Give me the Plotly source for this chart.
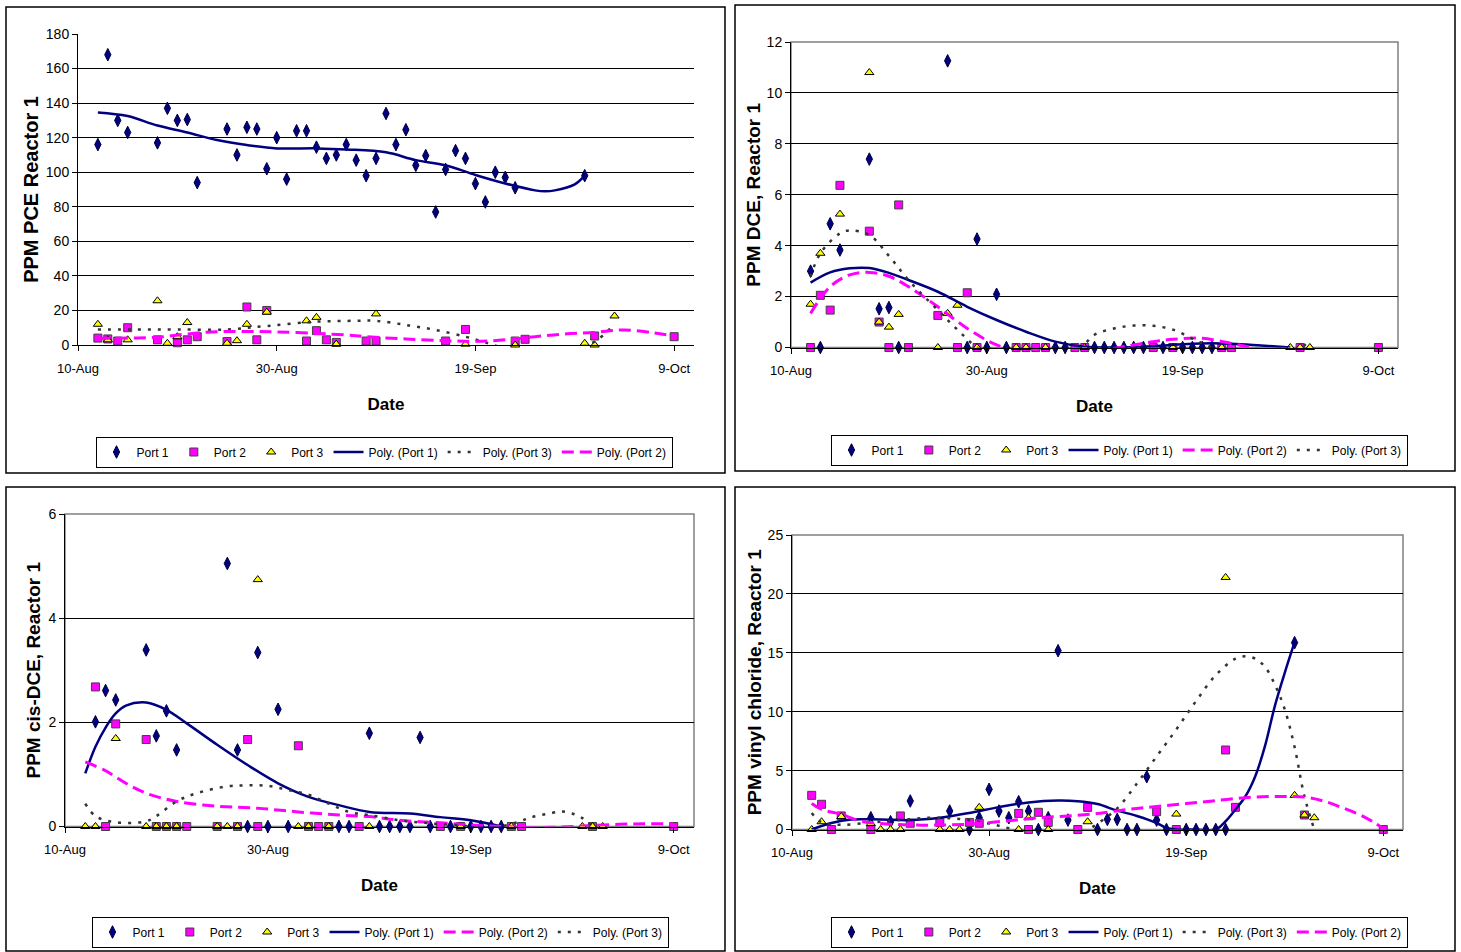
import plotly.graph_objects as go

W, H = 1461, 952
YEAR = "2003"


def dt(lst):
    return [f"{YEAR}-{d}" for d in lst]


# ---------------- axis ticks ----------------
x_tick_dates = ["08-10", "08-30", "09-19", "10-09"]
x_tick_labels = ["10-Aug", "30-Aug", "19-Sep", "9-Oct"]
x_range = ["08-10", "10-11"]

# ---------------- Panel 1: PCE ----------------
pce_p1_dates = ["08-12", "08-13", "08-14", "08-15", "08-18", "08-19", "08-20", "08-21", "08-22",
                "08-25", "08-26", "08-27", "08-28", "08-29", "08-30", "08-31", "09-01", "09-02",
                "09-03", "09-04", "09-05", "09-06", "09-07", "09-08", "09-09", "09-10", "09-11",
                "09-12", "09-13", "09-14", "09-15", "09-16", "09-17", "09-18", "09-19", "09-20",
                "09-21", "09-22", "09-23", "09-30"]
pce_p1_vals = [116, 168, 130, 123, 117, 137, 130, 130.5, 94, 125, 110, 126, 125, 102, 120, 96,
               124, 124, 114.5, 108, 110, 116, 107, 98, 108, 134, 116, 124.6, 104, 109.6, 77,
               101.6, 112.5, 108, 93.4, 82.8, 100, 97, 91, 98]
pce_p2_dates = ["08-12", "08-13", "08-14", "08-15", "08-18", "08-20", "08-21", "08-22", "08-25",
                "08-27", "08-28", "08-29", "09-02", "09-03", "09-04", "09-05", "09-08", "09-09",
                "09-16", "09-18", "09-23", "09-24", "10-01", "10-09"]
pce_p2_vals = [4, 3.5, 2.3, 10, 3, 1.3, 3, 4.8, 2, 22, 3, 20, 2.3, 8.3, 3, 1.5, 2.3, 2.3, 2.3, 9,
               2.3, 3.3, 5.2, 4.8]
pce_p3_dates = ["08-12", "08-13", "08-15", "08-18", "08-19", "08-20", "08-21", "08-25", "08-26",
                "08-27", "08-29", "09-02", "09-03", "09-05", "09-09", "09-18", "09-23", "09-30",
                "10-01", "10-03"]
pce_p3_vals = [12, 3, 3, 25.6, 1, 4.8, 13, 1, 2.5, 12, 19, 14, 16, 0.5, 18, 0.5, 0, 1, 0, 16.8]
pce_t1_dates = ["08-12", "08-15", "08-18", "08-21", "08-24", "08-27", "08-30", "09-03", "09-06",
                "09-10", "09-13", "09-16", "09-19", "09-22", "09-25", "09-26", "09-27", "09-29",
                "09-30"]
pce_t1_vals = [134.6, 132.5, 127, 123, 118.6, 115.7, 113.8, 113.8, 113.2, 111.5, 107, 104, 98.4,
               93.5, 89.5, 89, 89.5, 93, 98]
pce_t3_dates = ["08-12", "08-16", "08-20", "08-25", "08-29", "09-03", "09-07", "09-09", "09-12",
                "09-15", "09-18", "09-20", "09-22", "09-25", "09-28", "10-01", "10-03"]
pce_t3_vals = [9, 9, 9, 9, 11, 13.5, 14, 14, 11.6, 8.7, 4.8, 1.5, -2, -5, -4, 2, 12]
pce_t2_dates = ["08-12", "08-15", "08-18", "08-21", "08-24", "08-27", "08-30", "09-03", "09-06",
                "09-08", "09-12", "09-16", "09-19", "09-22", "09-25", "09-28", "10-01", "10-04",
                "10-07", "10-09"]
pce_t2_vals = [3.9, 4, 4.5, 6.4, 7.7, 7.8, 7.6, 6.7, 5.8, 4.8, 3.5, 2.5, 2.1, 3, 4.8, 6.4, 7.3,
               8.7, 7, 5.2]

# ---------------- Panel 2: DCE ----------------
dce_p1_dates = ["08-12", "08-13", "08-14", "08-15", "08-18", "08-19", "08-20", "08-21", "08-26",
                "08-28", "08-29", "08-30", "08-31", "09-01", "09-06", "09-07", "09-10", "09-11",
                "09-12", "09-13", "09-14", "09-15", "09-17", "09-19", "09-20", "09-21", "09-22"]
dce_p1_vals = [3.0, 0, 4.86, 3.83, 7.4, 1.52, 1.57, 0, 11.26, 0, 4.26, 0, 2.09, 0, 0, 0, 0, 0,
               0, 0, 0, 0, 0, 0, 0, 0, 0]
dce_p2_dates = ["08-12", "08-13", "08-14", "08-15", "08-18", "08-19", "08-20", "08-21", "08-22",
                "08-25", "08-27", "08-28", "08-29", "09-02", "09-03", "09-04", "09-05", "09-08",
                "09-09", "09-16", "09-18", "09-23", "09-24", "10-01", "10-09"]
dce_p2_vals = [0, 2.05, 1.47, 6.37, 4.57, 1.0, 0, 5.6, 0, 1.26, 0, 2.15, 0, 0, 0, 0, 0, 0, 0,
               0, 0, 0, 0, 0, 0]
dce_p3_dates = ["08-12", "08-13", "08-15", "08-18", "08-19", "08-20", "08-21", "08-25", "08-26",
                "08-27", "08-29", "09-02", "09-03", "09-05", "09-09", "09-18", "09-23", "09-30",
                "10-01", "10-02"]
dce_p3_vals = [1.7, 3.7, 5.24, 10.8, 1.0, 0.8, 1.3, 0, 1.34, 1.66, 0, 0, 0, 0, 0, 0, 0, 0, 0, 0]
dce_t1_dates = ["08-12", "08-14", "08-16", "08-18", "08-20", "08-22", "08-25", "08-28", "08-31",
                "09-03", "09-06", "09-09", "09-12", "09-16", "09-20", "09-24", "09-27", "09-30"]
dce_t1_vals = [2.55, 2.95, 3.11, 3.12, 2.93, 2.65, 2.19, 1.6, 1.08, 0.62, 0.23, 0.03, 0.0, 0.05,
               0.15, 0.15, 0.08, 0.0]
dce_t2_dates = ["08-12", "08-14", "08-16", "08-18", "08-20", "08-22", "08-25", "08-28", "08-31",
                "09-03", "09-07", "09-11", "09-14", "09-16", "09-18", "09-21", "09-24", "09-26",
                "09-30", "10-04", "10-09"]
dce_t2_vals = [1.34, 2.39, 2.85, 2.95, 2.8, 2.39, 1.6, 0.75, 0.1, -0.25, -0.3, -0.1, 0.1, 0.23,
               0.32, 0.36, 0.16, 0, -0.3, -0.3, 0]
dce_t3_dates = ["08-12", "08-13", "08-15", "08-16", "08-18", "08-20", "08-22", "08-25", "08-27",
                "08-29", "09-01", "09-05", "09-08", "09-09", "09-10", "09-12", "09-14", "09-16",
                "09-18", "09-20", "09-22", "09-26", "09-30", "10-02"]
dce_t3_vals = [2.78, 3.7, 4.48, 4.6, 4.42, 3.6, 2.65, 1.47, 0.7, 0, -0.6, -0.6, -0.2, 0.13, 0.5,
               0.75, 0.86, 0.85, 0.7, 0.35, 0, -0.4, -0.3, 0.3]

# ---------------- Panel 3: cis-DCE ----------------
cis_p1_dates = ["08-13", "08-14", "08-15", "08-18", "08-19", "08-20", "08-21", "08-26", "08-27",
                "08-28", "08-29", "08-30", "08-31", "09-01", "09-06", "09-07", "09-09", "09-10",
                "09-11", "09-12", "09-13", "09-14", "09-15", "09-17", "09-19", "09-20", "09-21",
                "09-22"]
cis_p1_vals = [2.01, 2.61, 2.43, 3.39, 1.74, 2.22, 1.47, 5.05, 1.47, 0, 3.34, 0, 2.25, 0, 0, 0,
               1.79, 0, 0, 0, 0, 1.71, 0, 0, 0, 0, 0, 0]
cis_p2_dates = ["08-13", "08-14", "08-15", "08-18", "08-19", "08-20", "08-21", "08-22", "08-25",
                "08-27", "08-28", "08-29", "09-02", "09-03", "09-04", "09-05", "09-08", "09-16",
                "09-18", "09-23", "09-24", "10-01", "10-09"]
cis_p2_vals = [2.68, 0, 1.97, 1.67, 0, 0, 0, 0, 0, 0, 1.67, 0, 1.55, 0, 0, 0, 0, 0, 0, 0, 0, 0, 0]
cis_p3_dates = ["08-12", "08-13", "08-15", "08-18", "08-19", "08-20", "08-21", "08-25", "08-26",
                "08-27", "08-29", "09-02", "09-03", "09-05", "09-09", "09-18", "09-23", "09-30",
                "10-01", "10-02"]
cis_p3_vals = [0, 0, 1.69, 0, 0, 0, 0, 0, 0, 0, 4.74, 0, 0, 0, 0, 0, 0, 0, 0, 0]
cis_t1_dates = ["08-12", "08-13", "08-14", "08-15", "08-16", "08-18", "08-20", "08-22", "08-25",
                "08-28", "08-31", "09-03", "09-06", "09-09", "09-13", "09-16", "09-19", "09-22"]
cis_t1_vals = [1.02, 1.53, 1.9, 2.17, 2.32, 2.38, 2.24, 1.98, 1.57, 1.18, 0.83, 0.57, 0.41, 0.28,
               0.25, 0.18, 0.12, 0.0]
cis_t2_dates = ["08-12", "08-14", "08-16", "08-18", "08-21", "08-25", "08-29", "09-02", "09-06",
                "09-09", "09-12", "09-16", "09-19", "09-22", "09-25", "09-28", "10-01", "10-05",
                "10-09"]
cis_t2_vals = [1.24, 1.07, 0.83, 0.64, 0.48, 0.39, 0.35, 0.28, 0.22, 0.19, 0.12, 0.07, 0.03, 0.0,
               -0.02, -0.01, 0.02, 0.05, 0.05]
cis_t3_dates = ["08-12", "08-13", "08-15", "08-18", "08-19", "08-21", "08-23", "08-26", "08-28",
                "08-30", "09-01", "09-03", "09-05", "09-07", "09-09", "09-12", "09-15", "09-18",
                "09-20", "09-22", "09-24", "09-25", "09-27", "09-28", "09-29", "09-30", "10-01"]
cis_t3_vals = [0.44, 0.2, 0.08, 0.1, 0.2, 0.48, 0.64, 0.77, 0.79, 0.78, 0.7, 0.61, 0.44, 0.28,
               0.22, 0.12, 0.06, 0.02, -0.02, 0.0, 0.11, 0.18, 0.26, 0.29, 0.25, 0.16, 0.0]

# ---------------- Panel 4: vinyl chloride ----------------
vc_p1_dates = ["08-18", "08-20", "08-22", "08-26", "08-28", "08-29", "08-30", "08-31", "09-01",
               "09-02", "09-03", "09-04", "09-05", "09-06", "09-07", "09-10", "09-11", "09-12",
               "09-13", "09-14", "09-15", "09-16", "09-17", "09-19", "09-20", "09-21", "09-22",
               "09-23", "09-30"]
vc_p1_vals = [1.0, 0.66, 2.42, 1.57, 0, 1.0, 3.41, 1.57, 1.0, 2.36, 1.57, 0, 1.0, 15.18, 0.8, 0,
              0.86, 0.86, 0, 0, 4.48, 0.8, 0, 0, 0, 0, 0, 0, 15.86]
vc_p2_dates = ["08-12", "08-13", "08-14", "08-15", "08-18", "08-21", "08-22", "08-25", "08-28",
               "08-29", "09-02", "09-03", "09-04", "09-05", "09-08", "09-09", "09-16", "09-18",
               "09-23", "09-24", "10-01", "10-09"]
vc_p2_vals = [2.9, 2.14, 0, 1.15, 0, 1.15, 0.53, 0.6, 0.6, 0.53, 1.37, 0, 1.46, 0.6, 0, 1.88,
              1.51, 0, 6.75, 1.88, 1.23, 0]
vc_p3_dates = ["08-12", "08-13", "08-15", "08-18", "08-19", "08-20", "08-21", "08-25", "08-26",
               "08-27", "08-29", "09-02", "09-03", "09-05", "09-09", "09-18", "09-23", "09-30",
               "10-01", "10-02"]
vc_p3_vals = [0, 0.66, 1.1, 0.5, 0, 0, 0, 0, 0, 0, 1.88, 0, 1.0, 0, 0.66, 1.31, 21.4, 2.9, 1.23,
              1.0]
vc_t1_dates = ["08-12", "08-14", "08-16", "08-19", "08-22", "08-25", "08-28", "08-31", "09-03",
               "09-06", "09-08", "09-10", "09-12", "09-14", "09-16", "09-17", "09-18", "09-20",
               "09-22", "09-23", "09-24", "09-25", "09-26", "09-27", "09-28", "09-29", "09-30"]
vc_t1_vals = [0, 0.55, 0.85, 0.85, 0.8, 1.0, 1.4, 1.9, 2.3, 2.46, 2.4, 2.16, 1.6, 1.15, 0.55,
              0.13, 0, 0, 0, 0.7, 1.7, 2.8, 4.5, 7.1, 10.5, 13.3, 15.9]
vc_t3_dates = ["08-12", "08-13", "08-15", "08-18", "08-21", "08-24", "08-27", "08-30", "09-01",
               "09-03", "09-06", "09-08", "09-10", "09-12", "09-14", "09-16", "09-18", "09-20",
               "09-22", "09-24", "09-25", "09-26", "09-27", "09-28", "09-29", "09-30", "10-01",
               "10-02"]
vc_t3_vals = [1.4, 0.6, 0.4, 0.6, 0.8, 1.0, 0.9, 0.5, 0.1, -0.4, -0.8, -0.5, 0.5, 1.8, 3.9, 6.2,
              8.5, 10.9, 13.1, 14.5, 14.7, 14.5, 13.8, 12.3, 10.2, 7.0, 2.8, 0.0]
vc_t2_dates = ["08-12", "08-13", "08-15", "08-17", "08-20", "08-23", "08-26", "08-29", "09-01",
               "09-04", "09-07", "09-10", "09-13", "09-16", "09-19", "09-22", "09-25", "09-28",
               "10-01", "10-03", "10-05", "10-07", "10-09"]
vc_t2_vals = [2.2, 1.7, 1.3, 0.7, 0.45, 0.37, 0.4, 0.5, 0.75, 1.0, 1.15, 1.35, 1.7, 1.95, 2.2,
              2.45, 2.7, 2.8, 2.75, 2.4, 1.8, 1.1, 0.1]

# ---------------- styling ----------------
NAVY = "#000080"
MAG = "#FF00FF"
YEL = "#FFFF00"
DOT = "#333333"
FONT = "Liberation Sans Narrow, Arial Narrow, Arial, Liberation Sans, sans-serif"
AFONT = "Arial, Liberation Sans, sans-serif"

panels = [
    dict(n=1, title="PPM PCE Reactor 1", yr=[0, 180], dtick=20, standoff=1, tsize=20,
         box=(78, 694, 34, 345), frame=(6, 725, 7, 473), border=False,
         leg=(384, 452),
         pts=[(pce_p1_dates, pce_p1_vals), (pce_p2_dates, pce_p2_vals), (pce_p3_dates, pce_p3_vals)],
         trends=[("1", pce_t1_dates, pce_t1_vals), ("3", pce_t3_dates, pce_t3_vals),
                 ("2", pce_t2_dates, pce_t2_vals)]),
    dict(n=2, title="PPM DCE, Reactor 1", yr=[0, 12], dtick=2, standoff=0, tsize=19,
         box=(791, 1398, 42, 347.5), frame=(735, 1455, 5, 471), border=True,
         leg=(1119, 450),
         pts=[(dce_p1_dates, dce_p1_vals), (dce_p2_dates, dce_p2_vals), (dce_p3_dates, dce_p3_vals)],
         trends=[("1", dce_t1_dates, dce_t1_vals), ("2", dce_t2_dates, dce_t2_vals),
                 ("3", dce_t3_dates, dce_t3_vals)]),
    dict(n=3, title="PPM cis-DCE, Reactor 1", yr=[0, 6], dtick=2, standoff=2, tsize=19,
         box=(65, 694, 514, 826.5), frame=(6, 725, 487, 951), border=True,
         leg=(380, 932),
         pts=[(cis_p1_dates, cis_p1_vals), (cis_p2_dates, cis_p2_vals), (cis_p3_dates, cis_p3_vals)],
         trends=[("1", cis_t1_dates, cis_t1_vals), ("2", cis_t2_dates, cis_t2_vals),
                 ("3", cis_t3_dates, cis_t3_vals)]),
    dict(n=4, title="PPM vinyl chloride, Reactor 1", yr=[0, 25], dtick=5, standoff=0, tsize=19,
         box=(792, 1403, 535, 829.5), frame=(735, 1455, 487, 951), border=True,
         leg=(1119, 932),
         pts=[(vc_p1_dates, vc_p1_vals), (vc_p2_dates, vc_p2_vals), (vc_p3_dates, vc_p3_vals)],
         trends=[("1", vc_t1_dates, vc_t1_vals), ("3", vc_t3_dates, vc_t3_vals),
                 ("2", vc_t2_dates, vc_t2_vals)]),
]

marker_styles = [
    dict(symbol="diamond-tall", size=9, color=NAVY, line=dict(width=1, color="#000040")),
    dict(symbol="square", size=8, color=MAG, line=dict(width=1, color="#404040")),
    dict(symbol="triangle-up", size=8, color=YEL, line=dict(width=1, color="#000000")),
]
line_styles = {
    "1": dict(color=NAVY, width=2.5, dash="solid"),
    "2": dict(color=MAG, width=3, dash="12px,6px"),
    "3": dict(color=DOT, width=2.5, dash="3px,7px"),
}

fig = go.Figure()
layout = dict(width=W, height=H, margin=dict(l=0, r=0, t=0, b=0, autoexpand=False), autosize=False,
              paper_bgcolor="white", plot_bgcolor="white", shapes=[])

for p in panels:
    n = p["n"]
    sfx = "" if n == 1 else str(n)
    xa, ya = "x" + sfx, "y" + sfx
    leg = "legend" + sfx
    x0, x1, y0, y1 = p["box"]
    for i, (d, v) in enumerate(p["pts"]):
        fig.add_trace(go.Scatter(x=dt(d), y=v, mode="markers", name=f"Port {i + 1}",
                                 marker=marker_styles[i], cliponaxis=False,
                                 xaxis=xa, yaxis=ya, legend=leg))
    for k, d, v in p["trends"]:
        fig.add_trace(go.Scatter(x=dt(d), y=v, mode="lines", name=f"Poly. (Port {k})",
                                 line=dict(shape="spline", smoothing=1.0, **line_styles[k]),
                                 xaxis=xa, yaxis=ya, legend=leg))
    layout["xaxis" + sfx] = dict(
        domain=[x0 / W, x1 / W], anchor=ya, type="date", range=dt(x_range),
        tickmode="array", tickvals=dt(x_tick_dates), ticktext=x_tick_labels,
        showgrid=False, zeroline=False, showline=True, linecolor="black", linewidth=1,
        ticks="outside", ticklen=5, tickcolor="black", ticklabelstandoff=6,
        tickfont=dict(family=FONT, size=13, color="black"),
        title=dict(text="Date", font=dict(family=AFONT, size=17, color="black", weight="bold"),
                   standoff=23))
    layout["yaxis" + sfx] = dict(
        domain=[1 - y1 / H, 1 - y0 / H], anchor=xa, range=p["yr"], dtick=p["dtick"],
        showgrid=True, gridcolor="black", gridwidth=1, zeroline=False,
        showline=True, linecolor="black", linewidth=1,
        ticks="outside", ticklen=5, tickcolor="black",
        tickfont=dict(family=AFONT, size=14, color="black"),
        title=dict(text=p["title"],
                   font=dict(family=AFONT, size=p["tsize"], color="black", weight="bold"),
                   standoff=p["standoff"]))
    lx, ly = p["leg"]
    layout[leg] = dict(orientation="h", x=lx / W, y=1 - ly / H, xanchor="center", yanchor="middle",
                       bordercolor="black", borderwidth=1, bgcolor="white",
                       font=dict(family=FONT, size=12, color="black"), itemwidth=30,
                       traceorder="normal", tracegroupgap=0)
    if p["border"]:
        layout["shapes"].append(dict(type="rect", xref=xa + " domain", yref=ya + " domain",
                                     x0=0, x1=1, y0=0, y1=1, layer="below",
                                     line=dict(color="#808080", width=1.5)))
    fx0, fx1, fy0, fy1 = p["frame"]
    layout["shapes"].append(dict(type="rect", xref="paper", yref="paper",
                                 x0=fx0 / W, x1=fx1 / W, y0=1 - fy1 / H, y1=1 - fy0 / H,
                                 line=dict(color="black", width=1.5)))

fig.update_layout(**layout)
fig.write_html("out.html", config={"displayModeBar": False},
               post_script="document.body.style.margin='0';document.body.style.padding='0';"
                           "document.documentElement.style.overflow='hidden';")
